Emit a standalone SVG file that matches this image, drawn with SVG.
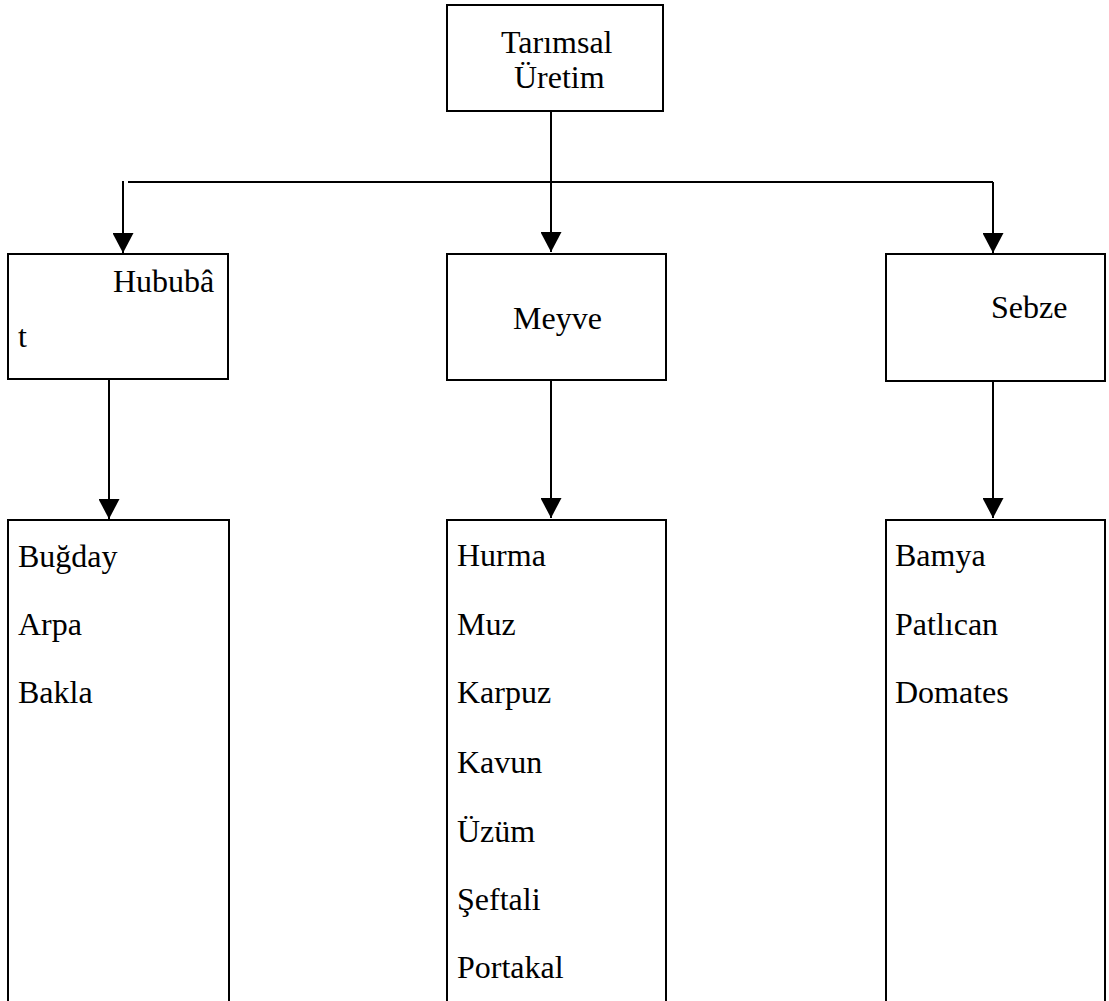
<svg xmlns="http://www.w3.org/2000/svg" width="1109" height="1001" viewBox="0 0 1109 1001">
<style>
.box{fill:#fff;stroke:#000;stroke-width:2}
.open{fill:none;stroke:#000;stroke-width:2}
.t{font-family:"Liberation Serif","Times New Roman",serif;font-size:32px;fill:#000}
.c{fill:none;stroke:#000;stroke-width:2}
</style>
<defs>
<marker id="ah" markerUnits="userSpaceOnUse" markerWidth="20" markerHeight="21" refX="20" refY="10.5" orient="auto">
<path d="M0,0 L20,10.5 L0,21 z" fill="#000"/>
</marker>
</defs>
<rect width="1109" height="1001" fill="#fff"/>
<g id="connectors">
<line class="c" x1="551" y1="112" x2="551" y2="252" marker-end="url(#ah)"/>
<line class="c" x1="128" y1="182" x2="993" y2="182"/>
<line class="c" x1="123" y1="181" x2="123" y2="253" marker-end="url(#ah)"/>
<line class="c" x1="993" y1="182" x2="993" y2="253" marker-end="url(#ah)"/>
<line class="c" x1="109" y1="380" x2="109" y2="519" marker-end="url(#ah)"/>
<line class="c" x1="551" y1="381" x2="551" y2="518" marker-end="url(#ah)"/>
<line class="c" x1="993" y1="381" x2="993" y2="518" marker-end="url(#ah)"/>
</g>
<g id="tarimsal-uretim">
<rect class="box" x="447" y="5" width="216" height="106"/>
<text class="t" x="501" y="53">Tarımsal</text>
<text class="t" x="514" y="88">Üretim</text>
</g>
<g id="hububat">
<rect class="box" x="8" y="254" width="220" height="125"/>
<text class="t" x="113" y="292">Hububâ</text>
<text class="t" x="18" y="347">t</text>
</g>
<g id="meyve">
<rect class="box" x="447" y="254" width="219" height="126"/>
<text class="t" x="513" y="329">Meyve</text>
</g>
<g id="sebze">
<rect class="box" x="886" y="254" width="219" height="127"/>
<text class="t" x="991" y="318">Sebze</text>
</g>
<g id="hububat-list">
<path class="open" d="M8,1003 V520 H229 V1003"/>
<text class="t" x="18" y="567">Buğday</text>
<text class="t" x="18" y="635">Arpa</text>
<text class="t" x="18" y="703">Bakla</text>
</g>
<g id="meyve-list">
<path class="open" d="M447,1003 V520 H666 V1003"/>
<text class="t" x="457" y="566">Hurma</text>
<text class="t" x="457" y="635">Muz</text>
<text class="t" x="457" y="703">Karpuz</text>
<text class="t" x="457" y="773">Kavun</text>
<text class="t" x="457" y="842">Üzüm</text>
<text class="t" x="457" y="910">Şeftali</text>
<text class="t" x="457" y="978">Portakal</text>
</g>
<g id="sebze-list">
<path class="open" d="M886,1003 V520 H1105 V1003"/>
<text class="t" x="895" y="566">Bamya</text>
<text class="t" x="895" y="635">Patlıcan</text>
<text class="t" x="895" y="703">Domates</text>
</g>
</svg>
